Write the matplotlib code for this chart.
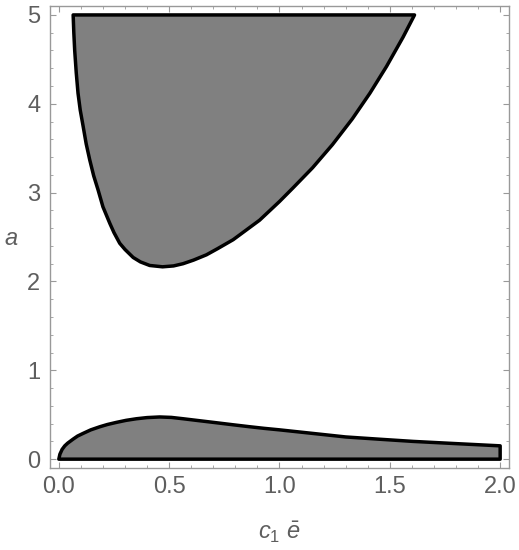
import matplotlib
matplotlib.use('Agg')
import matplotlib.pyplot as plt
from matplotlib.ticker import MultipleLocator

# upper region boundary (c1*ebar, a), left branch -> minimum -> right branch
upper_x = [0.065, 0.068, 0.072, 0.079, 0.087, 0.097, 0.110, 0.124, 0.140, 0.158,
           0.178, 0.200, 0.231, 0.250, 0.276, 0.300, 0.337, 0.370, 0.412, 0.470,
           0.520, 0.563, 0.610, 0.669, 0.720, 0.790, 0.850, 0.910, 1.000, 1.060,
           1.150, 1.240, 1.330, 1.410, 1.485, 1.560, 1.612]
upper_a = [5.00, 4.80, 4.60, 4.35, 4.12, 3.93, 3.75, 3.55, 3.37, 3.19,
           3.03, 2.84, 2.655, 2.55, 2.43, 2.36, 2.27, 2.22, 2.18, 2.165,
           2.175, 2.20, 2.24, 2.30, 2.37, 2.47, 2.58, 2.69, 2.90, 3.05,
           3.28, 3.54, 3.83, 4.12, 4.42, 4.75, 5.00]

# lower region upper boundary
lower_x = [0.0, 0.005, 0.015, 0.027, 0.040, 0.065, 0.085, 0.110, 0.145, 0.186,
           0.220, 0.261, 0.305, 0.352, 0.400, 0.457, 0.510, 0.563, 0.630, 0.714,
           0.790, 0.865, 0.930, 1.000, 1.150, 1.300, 1.450, 1.605, 1.800, 2.000]
lower_a = [0.0, 0.056, 0.110, 0.150, 0.180, 0.226, 0.260, 0.290, 0.330, 0.365,
           0.390, 0.414, 0.437, 0.455, 0.468, 0.475, 0.470, 0.455, 0.435, 0.410,
           0.387, 0.365, 0.347, 0.330, 0.290, 0.250, 0.225, 0.200, 0.175, 0.150]

a_top = 5.0
x_max = 2.0

plt.rcParams['font.family'] = ['Liberation Sans', 'DejaVu Sans']
plt.rcParams['mathtext.fontset'] = 'custom'
plt.rcParams['mathtext.it'] = 'Liberation Sans:italic'
plt.rcParams['mathtext.rm'] = 'Liberation Sans'

grey_txt = '#5e5e5e'
grey_ax = '#999999'

fig = plt.figure(figsize=(5.19, 5.50), dpi=100, facecolor='white')
ax = fig.add_axes([0.0963, 0.149, 0.8844, 0.840])

# top region closed along a = 5
ax.fill(upper_x + [upper_x[0]], upper_a + [a_top], facecolor='#808080',
        edgecolor='black', lw=2.5, joinstyle='round')
# bottom region closed along x = 2 and a = 0
ax.fill(lower_x + [x_max], lower_a + [0.0], facecolor='#808080',
        edgecolor='black', lw=2.5, joinstyle='round')

ax.set_xlim(-0.04, 2.04)
ax.set_ylim(-0.1, 5.1)
ax.xaxis.set_major_locator(MultipleLocator(0.5))
ax.xaxis.set_minor_locator(MultipleLocator(0.1))
ax.yaxis.set_major_locator(MultipleLocator(1))
ax.yaxis.set_minor_locator(MultipleLocator(0.2))
ax.xaxis.set_major_formatter(plt.FuncFormatter(lambda v, p: f'{v:.1f}'))
ax.yaxis.set_major_formatter(plt.FuncFormatter(lambda v, p: f'{v:.0f}'))

for s in ax.spines.values():
    s.set_color(grey_ax)
    s.set_linewidth(1.0)
ax.tick_params(which='both', direction='in', top=True, right=True,
               color=grey_ax, labelcolor=grey_txt, labelsize=17)
ax.tick_params(which='major', length=4, width=0.8)
ax.tick_params(which='minor', length=2, width=0.6)
ax.tick_params(axis='x', pad=6)
ax.tick_params(axis='y', pad=7)

ax.set_xlabel(r'$c_1\ \bar{e}$', fontsize=17, color=grey_txt, va='center')
ax.xaxis.set_label_coords(0.499, -0.139)
ax.set_ylabel(r'$a$', fontsize=17, color=grey_txt, rotation=0, va='center', ha='center')
ax.yaxis.set_label_coords(-0.085, 0.496)

plt.savefig('out.png', dpi=100, facecolor='white')
